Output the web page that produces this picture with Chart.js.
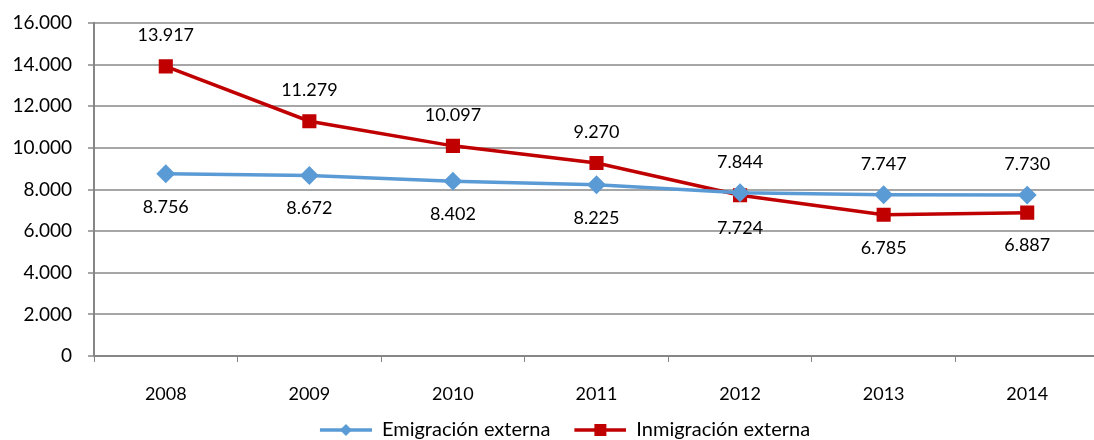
<!DOCTYPE html>
<html>
<head>
<meta charset="utf-8">
<script src="https://cdn.jsdelivr.net/npm/chart.js@4"></script>
<style>
  html, body { margin: 0; padding: 0; background: #fff; overflow: hidden; }
  #wrap { width: 1110px; height: 440px; }
</style>
</head>
<body>
<div id="wrap"><canvas id="lineChart"></canvas></div>
<script>
// Dataset
const years = ["2008", "2009", "2010", "2011", "2012", "2013", "2014"];
const emigracion = [8756, 8672, 8402, 8225, 7844, 7747, 7730];
const inmigracion = [13917, 11279, 10097, 9270, 7724, 6785, 6887];
const yTicks = [0, 2000, 4000, 6000, 8000, 10000, 12000, 14000, 16000];

// which side of the point each value label sits on
const emigLabelSide = ['below', 'below', 'below', 'below', 'above', 'above', 'above'];
const inmigLabelSide = ['above', 'above', 'above', 'above', 'below', 'below', 'below'];

const BLUE = '#5B9BD5';
const RED = '#C00000';
const FONT = 'Lato, "Open Sans", sans-serif';

// dot as thousands separator, like the original
const fmt = v => String(v).replace(/\B(?=(\d{3})+(?!\d))/g, '.');

// legend swatch: blank gap on the left, then a short line with the marker
function legendSwatch(color, marker) {
    const gap = 20;
    const c = document.createElement('canvas');
    c.width = 52 + gap; c.height = 14;
    const g = c.getContext('2d');
    g.strokeStyle = color;
    g.lineWidth = 3.5;
    g.beginPath(); g.moveTo(gap, 7); g.lineTo(gap + 52, 7); g.stroke();
    g.fillStyle = color;
    const cx = gap + 26;
    if (marker === 'diamond') {
        g.beginPath();
        g.moveTo(cx, 1); g.lineTo(cx + 6, 7); g.lineTo(cx, 13); g.lineTo(cx - 6, 7);
        g.closePath(); g.fill();
    } else {
        g.fillRect(cx - 6, 1, 12, 12);
    }
    return c;
}

const valueLabels = {
    id: 'valueLabels',
    afterDatasetsDraw(chart) {
        const ctx = chart.ctx;
        const sides = [emigLabelSide, inmigLabelSide];
        ctx.save();
        ctx.font = '18px ' + FONT;
        ctx.fillStyle = '#000';
        ctx.textAlign = 'center';
        ctx.textBaseline = 'middle';
        chart.data.datasets.forEach((ds, di) => {
            chart.getDatasetMeta(di).data.forEach((pt, i) => {
                const dy = sides[di][i] === 'above' ? -31 : 33;
                ctx.fillText(fmt(ds.data[i]), pt.x, pt.y + dy);
            });
        });
        ctx.restore();
    }
};

const ctx = document.getElementById('lineChart').getContext('2d');

const lineChart = new Chart(ctx, {
    type: 'line',
    data: {
        labels: years,
        datasets: [
            {
                label: 'Emigración externa',
                data: emigracion,
                borderColor: BLUE,
                backgroundColor: BLUE,
                borderWidth: 3.5,
                pointStyle: 'rectRot',
                pointRadius: 7,
                pointHoverRadius: 7,
                tension: 0
            },
            {
                label: 'Inmigración externa',
                data: inmigracion,
                borderColor: RED,
                backgroundColor: RED,
                borderWidth: 3.5,
                pointStyle: 'rect',
                pointRadius: 7.5,
                pointHoverRadius: 7.5,
                tension: 0
            }
        ]
    },
    options: {
        responsive: true,
        maintainAspectRatio: false,
        animation: false,
        layout: { padding: { top: 23, left: 0, right: 0, bottom: -10 } },
        plugins: {
            tooltip: { enabled: false },
            legend: {
                position: 'bottom',
                labels: {
                    usePointStyle: true,
                    pointStyleWidth: 72,
                    boxHeight: 14,
                    padding: 4,
                    color: '#000',
                    font: { family: FONT, size: 20 },
                    generateLabels(chart) {
                        return chart.data.datasets.map((ds, i) => ({
                            text: ds.label,
                            pointStyle: legendSwatch(ds.borderColor, i === 0 ? 'diamond' : 'square'),
                            fillStyle: ds.borderColor,
                            strokeStyle: ds.borderColor,
                            lineWidth: 0,
                            hidden: false,
                            datasetIndex: i
                        }));
                    }
                }
            }
        },
        scales: {
            x: {
                offset: true,
                afterFit(scale) { scale.height = 60; },
                grid: {
                    offset: true,
                    drawOnChartArea: false,
                    drawTicks: true,
                    tickLength: 6,
                    color: '#868686'
                },
                border: { color: '#868686', width: 2 },
                ticks: { color: '#000', padding: 21, font: { family: FONT, size: 18 } }
            },
            y: {
                min: 0,
                max: 16000,
                afterBuildTicks(scale) {
                    scale.ticks = yTicks.map(v => ({ value: v }));
                },
                afterFit(scale) {
                    scale.width = 94;
                    scale.paddingTop = 0;
                    scale.paddingBottom = 0;
                },
                grid: { color: '#A6A6A6', lineWidth: 2, tickLength: 6 },
                border: { color: '#868686', width: 2 },
                ticks: {
                    color: '#000',
                    padding: 16,
                    font: { family: FONT, size: 19 },
                    callback: v => fmt(v)
                }
            }
        }
    },
    plugins: [valueLabels]
});
</script>
</body>
</html>
